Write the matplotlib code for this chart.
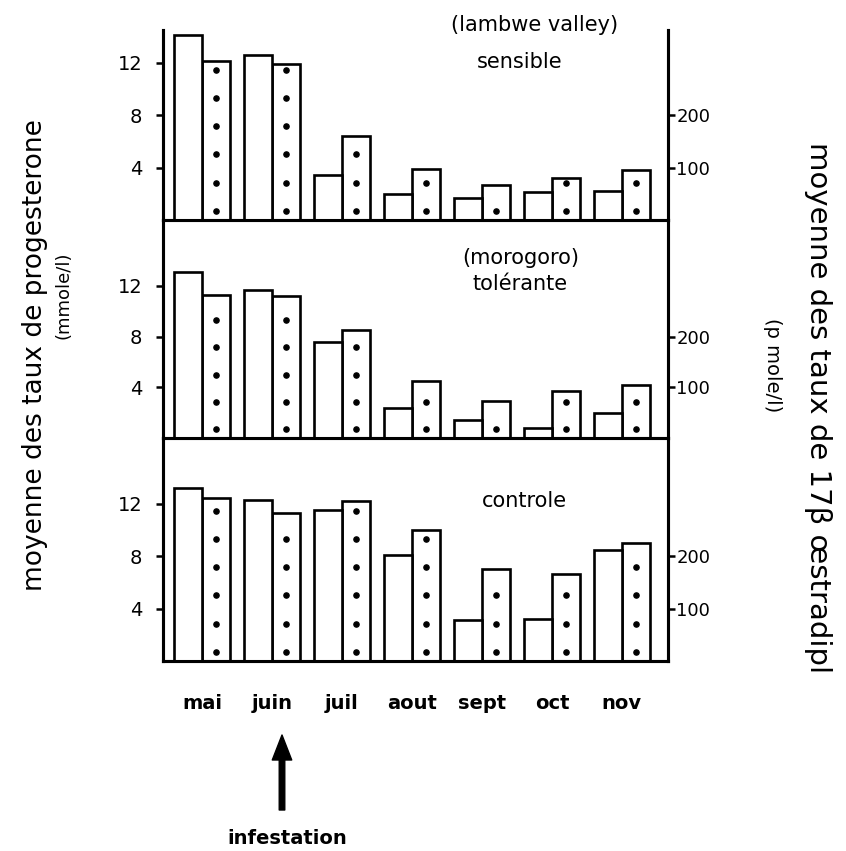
import matplotlib.pyplot as plt
import numpy as np

# mois et valeurs
months = ['mai', 'juin', 'juil', 'aout', 'sept', 'oct', 'nov']

# progesterone (mmole/l), barres blanches
prog_sensible = [14.1, 12.6, 3.4, 2.0, 1.7, 2.1, 2.2]
prog_tolerante = [13.1, 11.7, 7.6, 2.4, 1.4, 0.8, 2.0]
prog_controle = [13.2, 12.3, 11.5, 8.1, 3.1, 3.2, 8.5]

# 17beta oestradiol (pmole/l), barres pointillees
oes_sensible = [303, 298, 161, 98, 67, 81, 95]
oes_tolerante = [283, 280, 213, 113, 73, 93, 105]
oes_controle = [310, 283, 305, 250, 175, 165, 225]

titles = [('(lambwe valley)', 'sensible'), ('(morogoro)', 'tolérante'), ('controle',)]
prog_ticks = [4, 8, 12]
oes_ticks = [100, 200]

W, H = 846, 851
plt.rcParams['font.family'] = ['DejaVu Sans']


def fx(x):
    return x / W


def fy(y):
    return 1 - y / H


fig = plt.figure(figsize=(W / 100, H / 100), dpi=100)

# (haut, bas, ylim) de chaque panneau en pixels
panels = [(30, 220, 14.5), (220, 438, 17.2), (438, 661, 17.0)]
title_pos = [[(535, 25), (520, 62)], [(521, 258), (520, 284)], [(524, 501)]]
prog_data = [prog_sensible, prog_tolerante, prog_controle]
oes_data = [oes_sensible, oes_tolerante, oes_controle]

x = np.arange(len(months))
bw = 0.4
lw = 1.9

for i, (top, bot, ymax) in enumerate(panels):
    ax = fig.add_axes([fx(163), fy(bot), fx(668) - fx(163), (bot - top) / H])
    ax2 = ax.twinx()
    ax.set_xlim(-0.56, 6.66)
    ax.set_ylim(0, ymax)
    ax2.set_ylim(0, ymax * 25)

    prog = prog_data[i]
    oes = oes_data[i]
    ax.bar(x - bw / 2, prog, width=bw, color='white', edgecolor='black', linewidth=lw)
    ax2.bar(x + bw / 2, oes, width=bw, color='white', edgecolor='black', linewidth=lw)

    # points dans les barres d'oestradiol
    for xi, v in zip(x, oes):
        h = v / 25
        ys = np.arange(0.7, h - 0.35, 2.15)
        ax.scatter(np.full(len(ys), xi + bw / 2), ys, s=14, color='black', zorder=5)

    for a in (ax, ax2):
        a.spines['top'].set_visible(False)
        a.spines['left'].set_linewidth(2.2)
        a.spines['right'].set_linewidth(2.2)
        a.spines['bottom'].set_linewidth(2.2)
    ax2.set_zorder(ax.get_zorder() - 1)
    ax.patch.set_visible(False)

    ax.set_yticks(prog_ticks)
    ax.set_yticklabels([str(t) for t in prog_ticks], fontsize=14)
    ax.tick_params(axis='y', direction='out', length=5, width=1.8, pad=10)
    ax2.set_yticks(oes_ticks)
    ax2.set_yticklabels([str(t) for t in oes_ticks], fontsize=13)
    ax2.tick_params(axis='y', direction='out', length=5, width=1.8, pad=1)

    if i < 2:
        ax.set_xticks([])
    else:
        ax.set_xticks(x)
        ax.set_xticklabels(months, fontsize=14, fontweight='bold')
        ax.tick_params(axis='x', length=0, pad=24)

    for (tx, ty), t in zip(title_pos[i], titles[i]):
        fig.text(fx(tx), fy(ty), t, fontsize=15, ha='center', va='center')

# fleche "infestation"
fig.text(fx(287), fy(838), 'infestation', fontsize=14, fontweight='bold',
         ha='center', va='center')
plt.annotate('', xy=(fx(282), fy(735)), xytext=(fx(282), fy(810)),
             xycoords='figure fraction', textcoords='figure fraction',
             arrowprops=dict(width=4, headwidth=14, headlength=18,
                             facecolor='black', edgecolor='black'))

# titres des axes
fig.text(fx(35), fy(355), 'moyenne des taux de progesterone', rotation=90,
         fontsize=19, ha='center', va='center')
fig.text(fx(64), fy(295), '(mmole/l)', rotation=90, fontsize=13,
         ha='center', va='center')
fig.text(fx(818), fy(408), 'moyenne des taux de 17β œstradipl', rotation=270,
         fontsize=21, ha='center', va='center')
fig.text(fx(772), fy(365), '(p mole/l)', rotation=270, fontsize=14,
         ha='center', va='center')

fig.savefig('out.png', dpi=100)
